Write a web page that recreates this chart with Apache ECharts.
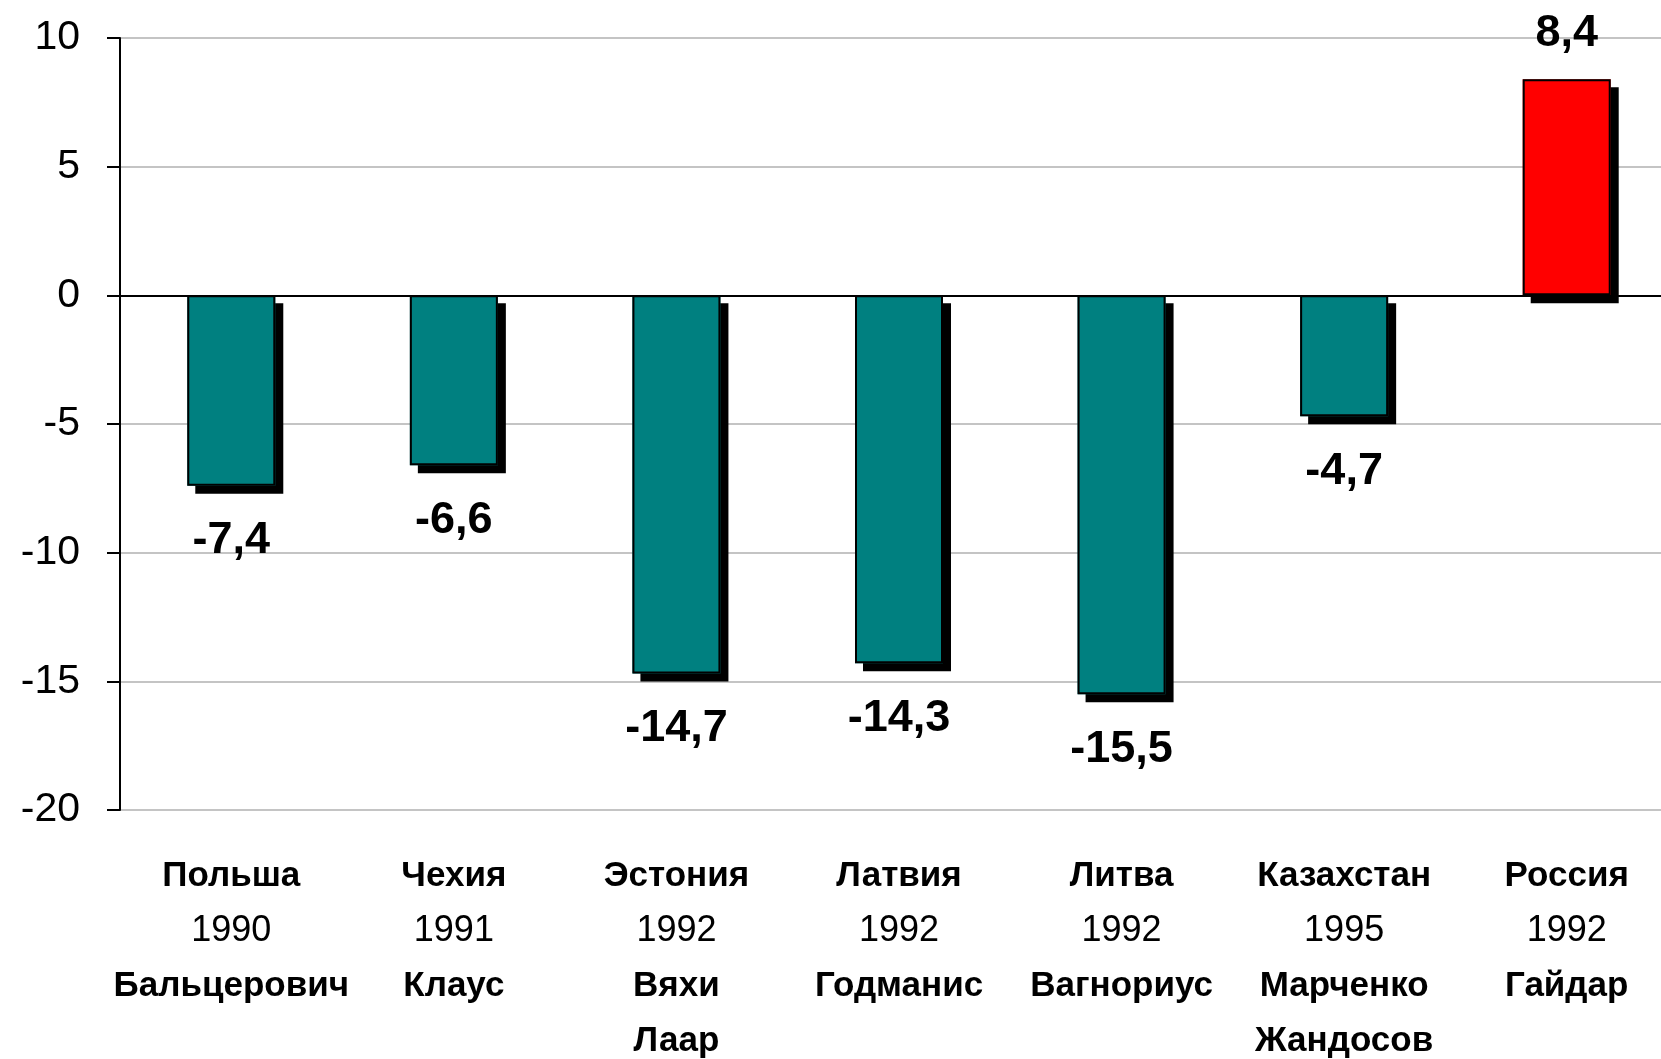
<!DOCTYPE html>
<html>
<head>
<meta charset="utf-8">
<script src="https://cdn.jsdelivr.net/npm/echarts@6/dist/echarts.min.js"></script>
<style>
html, body { margin: 0; padding: 0; background: #fff; overflow: hidden; width: 1661px; height: 1059px; }
#container { width: 1678px; height: 1059px; }
</style>
</head>
<body>
<div id="container"></div>
<script>
var countries = ['Польша', 'Чехия', 'Эстония', 'Латвия', 'Литва', 'Казахстан', 'Россия'];
var years = ['1990', '1991', '1992', '1992', '1992', '1995', '1992'];
var reformers = ['Бальцерович', 'Клаус', 'Вяхи\nЛаар', 'Годманис', 'Вагнориус', 'Марченко\nЖандосов', 'Гайдар'];
var values = [-7.4, -6.6, -14.7, -14.3, -15.5, -4.7, 8.4];
var yTicks = [-20, -15, -10, -5, 0, 5, 10];

var font = "'Liberation Sans', Arial, sans-serif";

// подписи категорий: страна / год / фамилии
var categories = countries.map(function (c, i) {
	var names = reformers[i].split('\n').map(function (n) {
		return '{b|' + n + '}';
	}).join('\n');
	return '{b|' + c + '}\n{y|' + years[i] + '}\n' + names;
});

var myChart = echarts.init(document.getElementById('container'));

var option = {
	animation: false,
	backgroundColor: '#fff',
	grid: {
		left: 120,
		right: 0,
		top: 38,
		bottom: 246
	},
	xAxis: {
		type: 'category',
		data: categories,
		axisLine: { show: false },
		axisTick: { show: false },
		axisLabel: {
			interval: 0,
			margin: 39,
			color: '#000',
			fontFamily: font,
			rich: {
				b: { fontSize: 35, fontWeight: 'bold', lineHeight: 55, fontFamily: font, color: '#000' },
				y: { fontSize: 36, fontWeight: 'normal', lineHeight: 55, fontFamily: font, color: '#000' }
			}
		}
	},
	yAxis: {
		type: 'value',
		min: yTicks[0],
		max: yTicks[yTicks.length - 1],
		interval: 5,
		axisLine: { show: true, lineStyle: { color: '#000', width: 2 } },
		axisTick: { show: true, length: 13, lineStyle: { color: '#000', width: 2 } },
		axisLabel: {
			margin: 40,
			fontSize: 41,
			color: '#000',
			fontFamily: font
		},
		splitLine: { lineStyle: { color: '#c4c4c4', width: 2 } }
	},
	series: [{
		// заливка с тенью
		type: 'bar',
		barWidth: 88,
		data: values.map(function (v) {
			return {
				value: v,
				itemStyle: { color: v < 0 ? '#008080' : '#ff0000' }
			};
		}),
		itemStyle: {
			borderWidth: 0,
			shadowColor: '#000',
			shadowBlur: 0,
			shadowOffsetX: 8,
			shadowOffsetY: 8
		},
		markLine: {
			silent: true,
			symbol: 'none',
			label: { show: false },
			lineStyle: { color: '#000', type: 'solid', width: 2 },
			data: [{ yAxis: 0 }]
		}
	}, {
		// контур и подписи
		type: 'bar',
		barWidth: 88,
		barGap: '-100%',
		data: values.map(function (v) {
			var neg = v < 0;
			return {
				value: v,
				label: {
					position: neg ? 'bottom' : 'top',
					distance: neg ? 30 : 21
				}
			};
		}),
		itemStyle: {
			color: 'rgba(0,0,0,0)',
			borderColor: '#000',
			borderWidth: 2
		},
		label: {
			show: true,
			fontSize: 45,
			fontWeight: 'bold',
			lineHeight: 50,
			color: '#000',
			fontFamily: font,
			formatter: function (p) {
				return p.value.toFixed(1).replace('.', ',');
			}
		}
	}]
};

myChart.setOption(option, true);
</script>
</body>
</html>
